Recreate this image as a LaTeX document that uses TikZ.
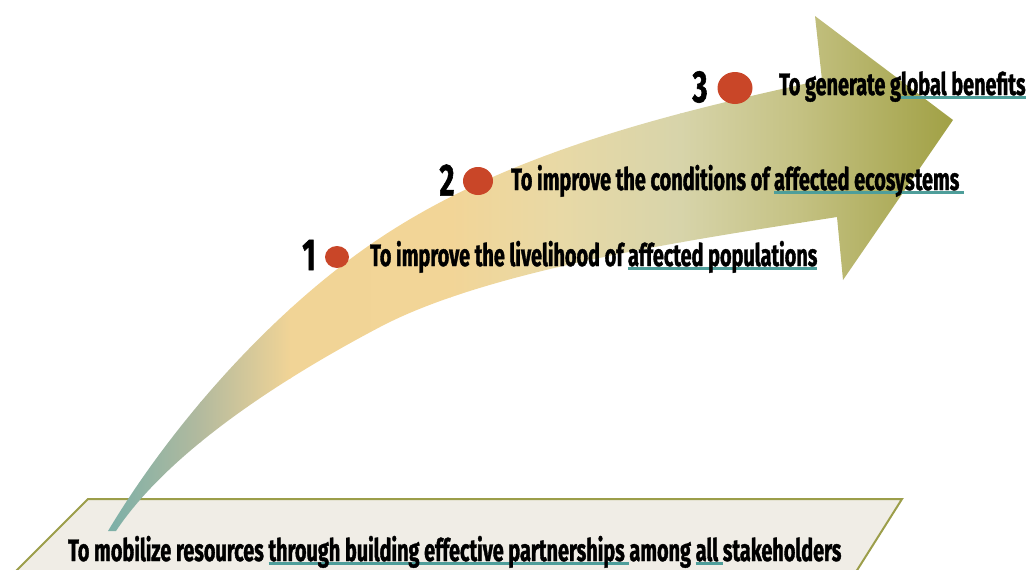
\documentclass[tikz,border=0pt]{standalone}
\usepackage{fontspec}
\usetikzlibrary{shapes.geometric}
\newfontfamily\cond{Fira Sans}[FakeStretch=0.64, FakeBold=1.2]
\definecolor{c1}{HTML}{74AEA9}
\definecolor{c2}{HTML}{B3BA9E}
\definecolor{c3}{HTML}{F1D496}
\definecolor{c4}{HTML}{F2D597}
\definecolor{c5}{HTML}{E8D9A6}
\definecolor{c6}{HTML}{D7D4AA}
\definecolor{c7}{HTML}{C4C182}
\definecolor{c8}{HTML}{9E9E40}
\definecolor{dotred}{HTML}{C94628}
\definecolor{ulteal}{HTML}{4E9E9A}
\definecolor{baseFill}{HTML}{F0EDE6}
\definecolor{baseLine}{HTML}{9C9E4A}
\newsavebox\ulbox
\newcommand\tul[1]{\sbox\ulbox{#1}\rlap{\color{ulteal}\rule[-3.8pt]{\wd\ulbox}{2.6pt}}\usebox\ulbox}
\tikzset{
  lbl/.style={anchor=base west, inner sep=0pt, font=\cond\bfseries\fontsize{31}{31}\selectfont, text=black},
  num/.style={anchor=center, inner sep=0pt, font=\cond\bfseries\fontsize{45}{45}\selectfont, text=black},
  dotbox/.style={ellipse, fill=dotred, draw=none, inner sep=0pt}
}
\begin{document}
\begin{tikzpicture}[x=1pt,y=-1pt]
\useasboundingbox (0,0) rectangle (1034,570);
% base trapezoid
\draw[fill=baseFill, draw=baseLine, line width=2pt] (88,499) -- (902,499) -- (854,575) -- (12,575) -- cycle;
% arrow outline
\def\arrowpath{(108,531) .. controls (174,421) and (275,308) .. (380,238)
  .. controls (515,148) and (687,110) .. (822,80)
  -- (815,16) -- (953,120) -- (843,280) -- (837,217)
  .. controls (711,237) and (494,267) .. (380,327)
  .. controls (285,377) and (170,450) .. (116,531) -- cycle}
\begin{scope}
\clip \arrowpath;
\shade[left color=c1, right color=c2] (95,0) rectangle (201,570);
\shade[left color=c2, right color=c3] (200,0) rectangle (291,570);
\shade[left color=c3, right color=c4] (290,0) rectangle (451,570);
\shade[left color=c4, right color=c5] (450,0) rectangle (561,570);
\shade[left color=c5, right color=c6] (560,0) rectangle (681,570);
\shade[left color=c6, right color=c7] (680,0) rectangle (801,570);
\shade[left color=c7, right color=c8] (800,0) rectangle (965,570);
\end{scope}
% dots
\node[dotbox, minimum width=24pt, minimum height=22pt] (d1) at (337,257) {};
\node[dotbox, minimum width=30pt, minimum height=28pt] (d2) at (478,181) {};
\node[dotbox, minimum width=35pt, minimum height=32pt] (d3) at (735,88) {};
% numbers
\node[num] (n1) at (309,255) {1};
\node[num] (n2) at (447,180) {2};
\node[num] (n3) at (700,87) {3};
% labels
\node[lbl] (t1) at (370,266) {To improve the livelihood of \tul{affected populations}};
\node[lbl] (t2) at (511,190) {To improve the conditions of \tul{affected ecosystems\ }};
\node[lbl] (t3) at (779,95) {To generate g\tul{lobal benefits}};
\node[lbl] (t0) at (68,561) {To mobilize resources \tul{through building effective partnerships\ }among \tul{all\ }stakeholders};
\end{tikzpicture}
\end{document}
